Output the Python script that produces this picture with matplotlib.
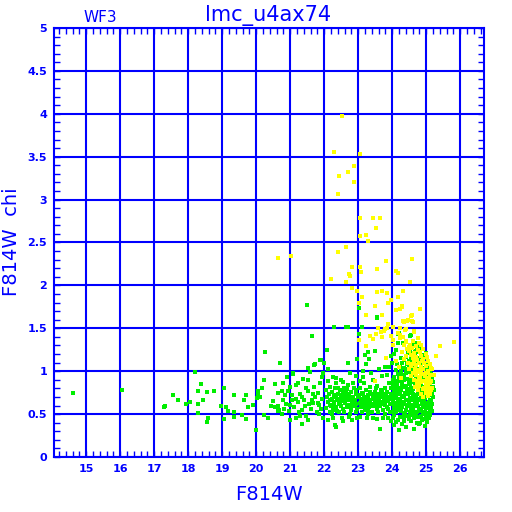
import matplotlib
matplotlib.use("Agg")
import matplotlib.pyplot as plt
from matplotlib.ticker import MultipleLocator, FuncFormatter

# F814W magnitude / chi pairs
green_left = [
    (14.62, 0.75), (16.04, 0.78), (17.30, 0.58), (17.31, 0.60), (17.54, 0.72), (17.69, 0.66),
    (17.93, 0.62), (18.06, 0.64), (18.19, 0.99), (18.28, 0.77), (18.36, 0.85), (18.42, 0.67),
    (18.30, 0.62), (18.54, 0.76), (18.77, 0.77), (18.28, 0.51), (18.59, 0.45), (18.54, 0.41),
    (19.06, 0.80), (18.95, 0.59), (19.12, 0.58), (19.16, 0.54), (19.04, 0.44), (19.34, 0.72),
    (19.34, 0.52), (19.34, 0.47), (19.59, 0.49), (19.69, 0.72), (19.65, 0.66), (19.75, 0.58),
    (19.69, 0.44), (19.91, 0.61), (19.99, 0.31), (20.22, 0.90), (20.06, 0.77), (20.18, 0.80),
    (20.01, 0.69), (20.10, 0.70), (20.04, 0.73), (20.48, 0.65), (20.42, 0.59), (20.54, 0.58),
    (20.65, 0.75), (20.54, 0.85), (20.24, 0.49), (20.36, 0.45), (20.65, 0.59), (20.65, 0.54),
    (20.26, 1.22), (20.71, 1.09), (20.91, 0.93), (21.07, 0.97), (20.79, 0.86), (20.67, 0.55),
]

green_sparse = [
    (21.50, 1.77), (21.65, 1.41), (22.07, 1.25), (22.30, 1.52), (22.65, 1.52), (22.69, 1.51),
    (23.12, 1.52), (23.56, 1.63), (23.01, 1.74), (21.99, 1.10), (21.71, 1.07), (21.87, 1.13),
    (22.69, 1.10), (22.96, 1.14), (22.11, 1.03), (21.91, 1.13), (23.24, 1.08), (23.19, 1.19),
    (23.28, 1.22), (23.49, 1.24), (23.32, 1.14), (23.01, 1.43), (24.18, 1.43), (24.51, 1.41),
    (24.20, 1.44), (24.54, 1.42), (24.32, 1.33), (24.12, 1.25), (24.18, 1.33), (24.05, 1.20),
    (23.95, 1.18), (24.00, 1.10), (24.25, 1.15), (24.15, 1.08), (23.90, 1.05), (23.55, 1.62),
]

green_mid = [
    (20.69, 1.09), (21.51, 1.04), (21.59, 0.99), (21.08, 0.98), (20.89, 0.93), (21.38, 0.91),
    (21.22, 0.86), (21.16, 0.84), (21.00, 0.82), (21.52, 0.90), (21.96, 0.98), (21.94, 0.93),
    (20.77, 0.77), (20.93, 0.77), (21.06, 0.72), (20.79, 0.67), (21.00, 0.61), (20.81, 0.56),
    (20.96, 0.54), (20.77, 0.50), (20.98, 0.43), (21.16, 0.46), (21.30, 0.48), (21.36, 0.38),
    (21.51, 0.43), (21.47, 0.48), (21.67, 0.63), (21.63, 0.66), (21.34, 0.70), (21.28, 0.74),
    (21.53, 0.77), (21.81, 0.75), (21.85, 0.61), (21.91, 0.56), (21.96, 0.45), (21.85, 0.50),
    (21.44, 0.60), (21.40, 0.66), (21.22, 0.64), (21.12, 0.58), (21.72, 0.70), (21.60, 0.56),
    (21.78, 0.53), (21.70, 0.82), (21.88, 0.86), (21.25, 0.52), (21.55, 0.62), (21.66, 0.74),
    (21.92, 0.68), (21.82, 0.63), (21.18, 0.68), (21.05, 0.66), (20.88, 0.62), (20.85, 0.72),
    (21.45, 0.80), (21.36, 0.55),
    (22.04, 0.57), (22.16, 0.52), (22.12, 0.43), (22.26, 0.45), (22.32, 0.37), (22.34, 0.35),
    (22.55, 0.42), (22.51, 0.46), (22.73, 0.47), (22.81, 0.43), (22.96, 0.45), (22.26, 0.93),
    (22.36, 0.86), (22.41, 0.80), (22.55, 0.87), (22.75, 0.98), (22.94, 0.94), (21.73, 1.08),
    (21.98, 1.10), (22.05, 0.78), (22.08, 0.70), (22.10, 0.64), (22.14, 0.74), (22.18, 0.82),
    (22.20, 0.60), (22.22, 0.68), (22.24, 0.76), (22.26, 0.55), (22.28, 0.72), (22.30, 0.64),
    (22.32, 0.80), (22.34, 0.58), (22.36, 0.70), (22.38, 0.66), (22.40, 0.74), (22.42, 0.62),
    (22.44, 0.52), (22.46, 0.78), (22.48, 0.69), (22.50, 0.60), (22.52, 0.72), (22.54, 0.65),
    (22.56, 0.56), (22.58, 0.80), (22.60, 0.70), (22.62, 0.63), (22.64, 0.75), (22.66, 0.58),
    (22.68, 0.68), (22.70, 0.84), (22.72, 0.61), (22.74, 0.72), (22.76, 0.66), (22.78, 0.55),
    (22.80, 0.76), (22.82, 0.64), (22.84, 0.70), (22.86, 0.59), (22.88, 0.80), (22.90, 0.67),
    (22.92, 0.73), (22.94, 0.62), (22.96, 0.56), (22.98, 0.70), (22.12, 0.88), (22.18, 0.66),
    (22.28, 0.60), (22.38, 0.54), (22.48, 0.90), (22.58, 0.52), (22.66, 0.79), (22.76, 0.50),
    (22.86, 0.86), (22.92, 0.53), (22.22, 0.50), (22.34, 0.92), (22.44, 0.68), (22.54, 0.76),
    (22.64, 0.66), (22.74, 0.58), (22.84, 0.62), (22.94, 0.78), (22.16, 0.61), (22.46, 0.64),
    (22.56, 0.70), (22.70, 0.73), (22.80, 0.69), (22.90, 0.60),
    (23.04, 0.47), (23.42, 0.46), (23.63, 0.33), (23.89, 0.45), (23.79, 0.50), (23.59, 0.52),
    (23.28, 0.54), (23.14, 0.93), (23.02, 0.72), (23.04, 0.63), (23.06, 0.80), (23.08, 0.58),
    (23.10, 0.68), (23.12, 0.75), (23.14, 0.61), (23.16, 0.70), (23.18, 0.86), (23.20, 0.55),
    (23.22, 0.66), (23.24, 0.78), (23.26, 0.62), (23.28, 0.72), (23.30, 0.68), (23.32, 0.58),
    (23.34, 0.82), (23.36, 0.64), (23.38, 0.74), (23.40, 0.52), (23.42, 0.69), (23.44, 0.90),
    (23.46, 0.60), (23.48, 0.76), (23.50, 0.66), (23.52, 0.71), (23.54, 0.56), (23.56, 0.83),
    (23.58, 0.63), (23.60, 0.73), (23.62, 0.68), (23.64, 0.59), (23.66, 0.78), (23.68, 0.64),
    (23.70, 0.94), (23.72, 0.70), (23.74, 0.55), (23.76, 0.67), (23.78, 0.80), (23.80, 0.61),
    (23.82, 0.72), (23.84, 0.58), (23.86, 0.76), (23.88, 0.65), (23.90, 0.86), (23.92, 0.70),
    (23.94, 0.52), (23.96, 0.74), (23.98, 0.62), (23.05, 0.88), (23.11, 0.52), (23.17, 0.64),
    (23.23, 0.70), (23.29, 0.50), (23.35, 0.76), (23.41, 0.62), (23.47, 0.68), (23.53, 0.80),
    (23.59, 0.60), (23.65, 0.70), (23.71, 0.62), (23.77, 0.73), (23.83, 0.66), (23.89, 0.56),
    (23.95, 0.80), (23.09, 0.66), (23.21, 0.60), (23.33, 0.66), (23.45, 0.72), (23.57, 0.66),
    (23.69, 0.76), (23.81, 0.68), (23.93, 0.62), (23.15, 0.74), (23.27, 0.64), (23.39, 0.60),
    (23.51, 0.62), (23.63, 0.74), (23.75, 0.64), (23.87, 0.70), (23.99, 0.68), (23.37, 0.98),
    (23.61, 1.02), (23.85, 0.96), (23.55, 0.44), (23.73, 0.46), (23.25, 0.45), (23.97, 0.42),
    (23.13, 1.00), (23.80, 1.05),
]

green_core = [
    (24.20, 0.31), (24.65, 0.33), (24.05, 0.37), (24.42, 0.35), (24.78, 0.38), (24.95, 0.36),
    (24.10, 0.41), (24.30, 0.39), (24.55, 0.42), (24.72, 0.40), (24.88, 0.43), (25.02, 0.41),
    (24.02, 0.45), (24.18, 0.43), (24.36, 0.46), (24.50, 0.44), (24.64, 0.45), (24.80, 0.47),
    (24.94, 0.44), (25.08, 0.46), (24.06, 0.49), (24.22, 0.47), (24.34, 0.50), (24.46, 0.48),
    (24.58, 0.49), (24.70, 0.51), (24.84, 0.48), (24.98, 0.50), (25.10, 0.49), (24.00, 0.53),
    (24.12, 0.52), (24.26, 0.54), (24.38, 0.51), (24.52, 0.53), (24.62, 0.55), (24.74, 0.52),
    (24.86, 0.54), (24.96, 0.53), (25.06, 0.51), (25.16, 0.54), (24.04, 0.57), (24.16, 0.56),
    (24.28, 0.58), (24.42, 0.55), (24.54, 0.57), (24.66, 0.59), (24.78, 0.56), (24.90, 0.58),
    (25.00, 0.57), (25.12, 0.55), (24.08, 0.61), (24.20, 0.60), (24.32, 0.62), (24.44, 0.59),
    (24.56, 0.61), (24.68, 0.63), (24.76, 0.60), (24.88, 0.62), (24.98, 0.61), (25.08, 0.59),
    (25.18, 0.62), (24.02, 0.65), (24.14, 0.63), (24.24, 0.66), (24.36, 0.64), (24.48, 0.65),
    (24.60, 0.67), (24.72, 0.64), (24.82, 0.66), (24.94, 0.65), (25.04, 0.63), (25.14, 0.66),
    (24.06, 0.69), (24.18, 0.68), (24.30, 0.70), (24.40, 0.67), (24.52, 0.69), (24.64, 0.71),
    (24.74, 0.68), (24.86, 0.70), (24.96, 0.69), (25.10, 0.67), (25.20, 0.70), (24.00, 0.73),
    (24.10, 0.72), (24.22, 0.74), (24.34, 0.71), (24.46, 0.73), (24.58, 0.75), (24.70, 0.72),
    (24.80, 0.74), (24.92, 0.73), (25.02, 0.71), (25.16, 0.74), (24.04, 0.77), (24.16, 0.76),
    (24.26, 0.78), (24.38, 0.75), (24.50, 0.77), (24.62, 0.79), (24.76, 0.76), (24.88, 0.78),
    (25.00, 0.77), (25.12, 0.75), (25.22, 0.78), (24.08, 0.81), (24.20, 0.80), (24.32, 0.82),
    (24.44, 0.79), (24.54, 0.81), (24.66, 0.83), (24.78, 0.80), (24.90, 0.82), (25.06, 0.81),
    (25.18, 0.79), (24.02, 0.85), (24.14, 0.84), (24.28, 0.86), (24.40, 0.83), (24.52, 0.85),
    (24.60, 0.87), (24.72, 0.84), (24.84, 0.86), (24.98, 0.85), (25.10, 0.83), (24.10, 0.89),
    (24.24, 0.88), (24.36, 0.90), (24.48, 0.87), (24.58, 0.89), (24.70, 0.91), (24.82, 0.88),
    (24.94, 0.90), (25.08, 0.89), (25.20, 0.87), (24.06, 0.93), (24.20, 0.92), (24.34, 0.94),
    (24.46, 0.91), (24.56, 0.93), (24.68, 0.95), (24.80, 0.92), (24.92, 0.94), (25.04, 0.93),
    (25.16, 0.91), (24.16, 0.97), (24.30, 0.96), (24.42, 0.98), (24.54, 0.95), (24.64, 0.97),
    (24.76, 0.99), (24.88, 0.96), (25.00, 0.98), (25.14, 0.97), (24.12, 1.01), (24.26, 1.00),
    (24.40, 1.02), (24.50, 0.99), (24.62, 1.01), (24.74, 1.03), (24.86, 1.00), (24.98, 1.02),
    (25.10, 1.01), (24.22, 1.05), (24.36, 1.04), (24.48, 1.06), (24.60, 1.03), (24.70, 1.05),
    (24.84, 1.07), (24.96, 1.04), (25.08, 1.06), (24.30, 1.09), (24.44, 1.08), (24.56, 1.10),
    (24.66, 1.07), (24.78, 1.09), (24.92, 1.11), (25.04, 1.08), (24.34, 1.13), (24.50, 1.12),
    (24.62, 1.14), (24.72, 1.11), (24.86, 1.13), (24.98, 1.15), (24.40, 1.17), (24.54, 1.16),
    (24.68, 1.18), (24.80, 1.15), (24.94, 1.17), (24.46, 1.21), (24.60, 1.20), (24.74, 1.22),
    (24.88, 1.19), (25.00, 1.21), (24.52, 1.25), (24.66, 1.24), (24.82, 1.26), (24.58, 1.29),
    (24.74, 1.28), (24.70, 1.33), (24.62, 1.32), (24.11, 0.70), (24.27, 0.62), (24.43, 0.76),
    (24.59, 0.52), (24.75, 0.66), (24.91, 0.50), (25.07, 0.72), (24.13, 0.55), (24.29, 0.83),
    (24.45, 0.61), (24.61, 0.74), (24.77, 0.86), (24.93, 0.58), (25.09, 0.64), (24.35, 0.42),
    (24.67, 0.47), (24.83, 0.40), (24.99, 0.45), (25.13, 0.58), (25.21, 0.82), (24.03, 0.90),
]

yellow_core = [
    (24.40, 1.34), (24.62, 1.35), (24.80, 1.33), (24.34, 1.30), (24.52, 1.31), (24.70, 1.29),
    (24.86, 1.30), (24.44, 1.26), (24.58, 1.27), (24.76, 1.25), (24.92, 1.26), (24.30, 1.22),
    (24.50, 1.23), (24.64, 1.21), (24.82, 1.22), (24.98, 1.20), (24.42, 1.18), (24.56, 1.19),
    (24.70, 1.17), (24.86, 1.18), (25.02, 1.16), (25.30, 1.18), (24.36, 1.14), (24.60, 1.15),
    (24.74, 1.13), (24.90, 1.14), (25.06, 1.12), (24.46, 1.10), (24.64, 1.11), (24.78, 1.09),
    (24.94, 1.10), (25.10, 1.08), (24.56, 1.06), (24.70, 1.07), (24.84, 1.05), (24.98, 1.06),
    (25.14, 1.04), (24.50, 1.02), (24.66, 1.03), (24.80, 1.01), (24.92, 1.02), (25.04, 1.00),
    (24.60, 0.98), (24.74, 0.99), (24.88, 0.97), (25.00, 0.98), (25.12, 0.96), (24.54, 0.94),
    (24.70, 0.95), (24.82, 0.93), (24.96, 0.94), (25.08, 0.92), (25.20, 0.95), (24.64, 0.90),
    (24.78, 0.91), (24.90, 0.89), (25.02, 0.90), (25.14, 0.88), (24.72, 0.86), (24.86, 0.87),
    (24.98, 0.85), (25.10, 0.86), (24.68, 0.82), (24.80, 0.83), (24.94, 0.81), (25.06, 0.82),
    (25.18, 0.80), (24.76, 0.78), (24.90, 0.79), (25.02, 0.77), (25.14, 0.78), (24.84, 0.74),
    (24.98, 0.75), (25.10, 0.73), (24.92, 0.70), (25.04, 0.71), (24.20, 1.05), (24.10, 1.12),
    (24.26, 0.92), (25.40, 1.29), (25.81, 1.34), (25.24, 0.96), (24.48, 1.28), (24.66, 1.16),
    (24.84, 0.98), (25.16, 1.02), (24.58, 1.08), (24.72, 0.88), (24.88, 1.12), (25.06, 0.86),
]

yellow_spread = [
    (22.51, 3.97), (22.28, 3.55), (23.06, 3.53), (22.87, 3.39), (22.71, 3.32), (22.42, 3.28),
    (22.89, 3.21), (22.40, 3.07), (23.04, 2.79), (23.44, 2.78), (23.65, 2.78), (23.51, 2.67),
    (23.24, 2.59), (23.04, 2.58), (23.28, 2.52), (20.65, 2.32), (21.01, 2.34), (22.65, 2.45),
    (22.40, 2.39), (22.81, 2.22), (23.06, 2.22), (23.08, 2.16), (22.73, 2.13), (22.77, 2.11),
    (22.20, 2.08), (22.65, 2.04), (23.81, 2.29), (23.54, 2.19), (24.10, 2.17), (24.16, 2.15),
    (24.57, 2.31), (24.53, 2.04), (22.83, 1.97), (22.96, 1.94), (23.54, 1.92), (23.71, 1.93),
    (23.85, 1.91), (24.32, 1.93), (24.16, 1.87), (23.12, 1.86), (23.96, 1.83), (23.89, 1.80),
    (23.01, 1.79), (23.48, 1.76), (24.28, 1.76), (24.12, 1.71), (24.22, 1.73), (24.81, 1.73),
    (23.24, 1.65), (23.69, 1.66), (24.57, 1.65), (24.32, 1.58), (24.46, 1.60), (24.59, 1.58),
    (23.89, 1.55), (23.85, 1.50), (24.02, 1.51), (23.75, 1.47), (23.59, 1.50), (23.67, 1.46),
    (23.51, 1.43), (23.36, 1.41), (23.71, 1.40), (24.42, 1.49), (24.65, 1.47), (24.24, 1.50),
    (24.75, 1.39), (24.32, 1.40), (23.49, 1.76), (23.52, 1.43), (23.44, 1.38), (23.22, 1.29),
    (23.01, 1.36), (23.79, 1.49), (23.95, 1.41), (24.01, 1.36), (24.01, 1.30), (24.22, 1.39),
    (24.42, 1.35), (24.30, 1.75), (24.56, 1.64), (24.34, 1.57), (24.61, 1.57), (24.65, 1.46),
    (24.18, 1.44), (23.81, 1.15), (23.49, 0.88), (24.38, 1.48), (24.44, 1.58), (24.22, 1.42),
]

blue = "#0000ff"
green = "#00ee00"
yellow = "#ffff00"

fig = plt.figure(figsize=(5.12, 5.12), dpi=100)
ax = fig.add_axes([54 / 512, 1 - 457 / 512, 430 / 512, 429 / 512])

for pts, col in [(green_left, green), (green_sparse, green), (green_mid, green),
                 (green_core, green), (yellow_core, yellow), (yellow_spread, yellow)]:
    xs = [p[0] for p in pts]
    ys = [p[1] for p in pts]
    ax.scatter(xs, ys, s=6, marker="s", color=col, linewidths=0, zorder=3,
               antialiased=False)

ax.set_xlim(14.05, 26.7)
ax.set_ylim(0, 5)

ax.xaxis.set_major_locator(MultipleLocator(1))
ax.xaxis.set_minor_locator(MultipleLocator(0.2))
ax.yaxis.set_major_locator(MultipleLocator(0.5))
ax.yaxis.set_minor_locator(MultipleLocator(0.1))
ax.yaxis.set_major_formatter(FuncFormatter(lambda v, p: "%g" % v))
ax.xaxis.set_major_formatter(FuncFormatter(lambda v, p: "%g" % v))

ax.grid(True, which="major", color=blue, linewidth=1.5, zorder=1)
ax.set_axisbelow(True)
for sp in ax.spines.values():
    sp.set_color(blue)
    sp.set_linewidth(1.5)

ax.tick_params(which="both", direction="in", top=True, right=True, color=blue,
               labelcolor=blue, width=1)
ax.tick_params(which="major", length=4, labelsize=8, pad=5)
ax.tick_params(which="minor", length=4)
for lab in ax.get_xticklabels() + ax.get_yticklabels():
    lab.set_fontweight("bold")

ax.set_xlabel("F814W", color=blue, fontsize=14, labelpad=8)
fig.text(12 / 512, 1 - 242 / 512, "F814W  chi", color=blue, fontsize=14,
         rotation=90, ha="center", va="center")
fig.text(268 / 512, 1 - 16 / 512, "lmc_u4ax74", color=blue, fontsize=15,
         ha="center", va="center")
fig.text(100 / 512, 1 - 17 / 512, "WF3", color=blue, fontsize=11,
         ha="center", va="center")

fig.savefig("out.png", dpi=100)
